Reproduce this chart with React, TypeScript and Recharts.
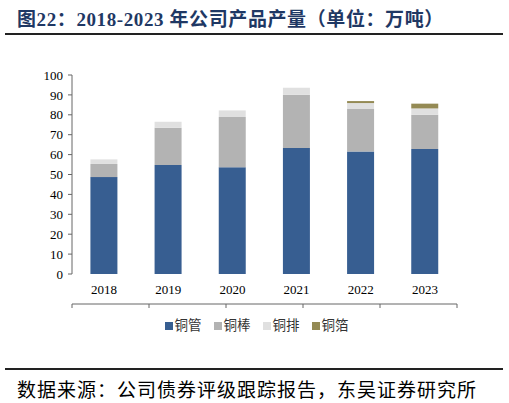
import { Bar, BarChart, XAxis, YAxis, Legend } from 'recharts'

const years = ['2018', '2019', '2020', '2021', '2022', '2023']
// 万吨
const tube = [48.7, 54.8, 53.6, 63.3, 61.5, 62.8]
const rod = [6.6, 18.7, 25.3, 26.7, 21.4, 17.2]
const busbar = [2.3, 3.0, 3.3, 3.6, 3.0, 3.2]
const foil = [0, 0, 0, 0, 1.0, 2.4]
const yTicks = [0, 10, 20, 30, 40, 50, 60, 70, 80, 90, 100]
const edgeTicks = [0, 1, 2, 3, 4, 5, 6]

const series = [
  { key: 'tube', name: '铜管', color: '#375e91' },
  { key: 'rod', name: '铜棒', color: '#b3b3b3' },
  { key: 'busbar', name: '铜排', color: '#e0e0e0' },
  { key: 'foil', name: '铜箔', color: '#948a54' },
]

const data = years.map((year, i) => ({
  year,
  tube: tube[i],
  rod: rod[i],
  busbar: busbar[i],
  foil: foil[i],
}))

const serif = '"Liberation Serif", "Noto Sans CJK SC", serif'
const cjk = '"Liberation Serif", "Noto Sans CJK SC", sans-serif'
const axisColor = '#666666'

function LegendRow() {
  return (
    <div style={{ display: 'flex', justifyContent: 'center', paddingLeft: 4, fontFamily: cjk, fontSize: 13.5 }}>
      {series.map((s, i) => (
        <div
          key={s.key}
          style={{ display: 'flex', alignItems: 'center', marginRight: i < series.length - 1 ? 12 : 0 }}
        >
          <span style={{ display: 'inline-block', width: 8, height: 8, background: s.color, marginRight: 2 }} />
          <span style={{ color: '#333', lineHeight: '16px' }}>{s.name}</span>
        </div>
      ))}
    </div>
  )
}

export default function App() {
  return (
    <div
      style={{
        position: 'fixed',
        left: 0,
        top: 0,
        width: 509,
        height: 403,
        background: '#fff',
        fontFamily: cjk,
      }}
    >
      <div
        style={{
          position: 'absolute',
          left: 17,
          top: 4,
          fontSize: 19,
          fontWeight: 'bold',
          color: '#1f3864',
          whiteSpace: 'nowrap',
          letterSpacing: 0.6,
        }}
      >
        图22：2018-2023 年公司产品产量（单位：万吨）
      </div>
      <div style={{ position: 'absolute', left: 5, top: 33, width: 498, height: 2, background: '#222' }} />

      <div style={{ position: 'absolute', left: 0, top: 0 }}>
        <BarChart
          width={509}
          height={403}
          data={data}
          margin={{ top: 75, right: 52, left: 0, bottom: 98 }}
          barCategoryGap="28.7%"
          style={{ fontFamily: serif }}
        >
          <XAxis
            xAxisId="edge"
            type="number"
            domain={[0, 6]}
            ticks={edgeTicks}
            height={1}
            axisLine={{ stroke: axisColor }}
            tickLine={{ stroke: axisColor }}
            tickSize={4}
            tickFormatter={() => ''}
          />
          <XAxis
            dataKey="year"
            height={30}
            axisLine={false}
            tickLine={false}
            tickSize={0}
            tickMargin={11}
            tick={{ fill: '#000', fontSize: 13, fontFamily: serif }}
          />
          <YAxis
            width={72}
            domain={[0, 100]}
            ticks={yTicks}
            interval={0}
            axisLine={{ stroke: axisColor }}
            tickLine={{ stroke: axisColor }}
            tickSize={4}
            tickMargin={5}
            tick={{ fill: '#000', fontSize: 13, fontFamily: serif }}
          />
          <Legend
            layout="horizontal"
            verticalAlign="middle"
            align="center"
            wrapperStyle={{ top: 318, left: 0, width: 509 }}
            content={() => <LegendRow />}
          />
          {series.map((s) => (
            <Bar
              key={s.key}
              dataKey={s.key}
              name={s.name}
              stackId="a"
              fill={s.color}
              isAnimationActive={false}
            />
          ))}
        </BarChart>
      </div>

      <div style={{ position: 'absolute', left: 5, top: 368, width: 498, height: 2, background: '#222' }} />
      <div
        style={{
          position: 'absolute',
          left: 17,
          top: 375,
          fontSize: 19,
          color: '#000',
          whiteSpace: 'nowrap',
          letterSpacing: 1,
        }}
      >
        数据来源：公司债券评级跟踪报告，东吴证券研究所
      </div>
    </div>
  )
}
